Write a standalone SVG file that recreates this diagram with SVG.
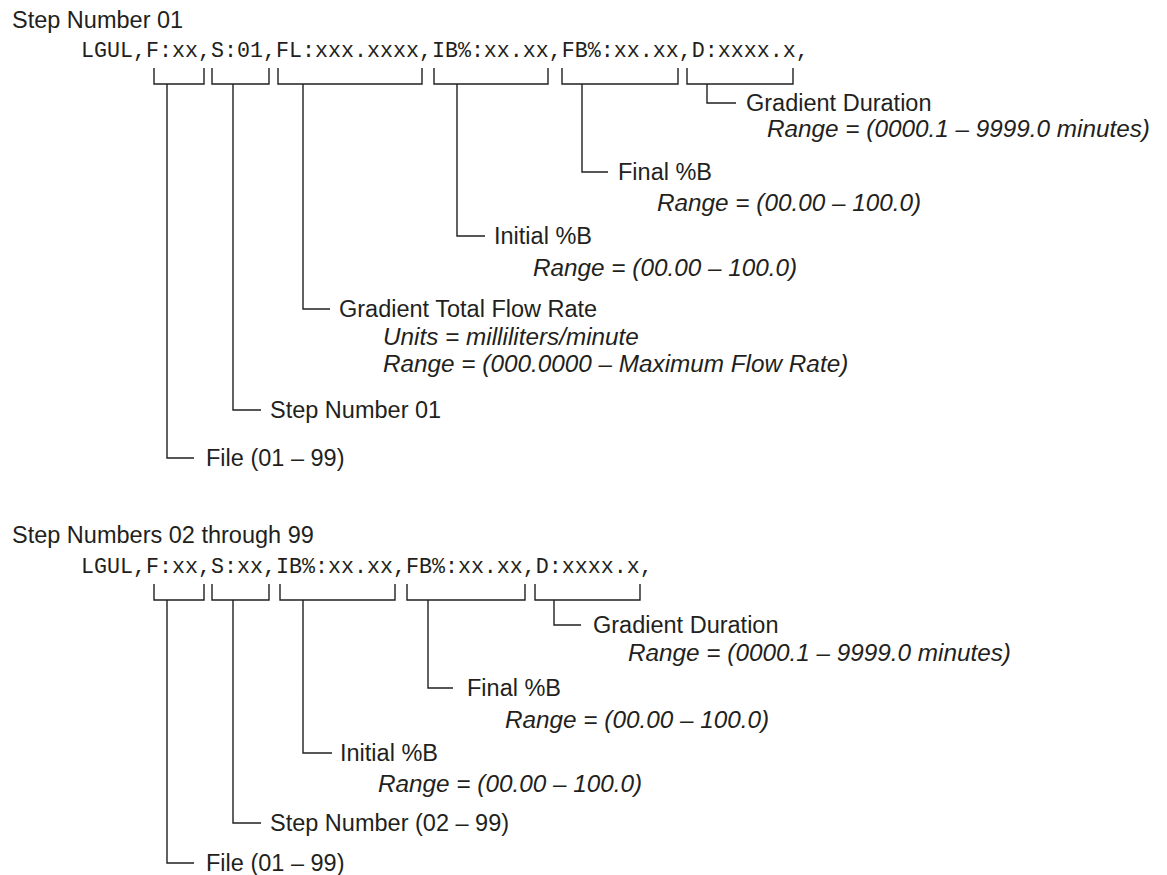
<svg xmlns="http://www.w3.org/2000/svg" width="1167" height="875" viewBox="0 0 1167 875">
<style>
text{font-family:"Liberation Sans",Arial,sans-serif;font-size:23.5px;fill:#231f20}
.code{font-family:"Liberation Mono","Courier New",monospace;font-size:21.67px;fill:#231f20}
.it{font-style:italic;font-size:24.3px}
.ln{fill:none;stroke:#231f20;stroke-width:1.4}
</style>
<rect width="1167" height="875" fill="#fff"/>
<g id="top-title"><text x="12" y="28">Step Number 01</text></g>
<g id="top-code"><text class="code" x="81" y="57">LGUL,F:xx,S:01,FL:xxx.xxxx,IB%:xx.xx,FB%:xx.xx,D:xxxx.x,</text></g>
<g id="connectors" class="ln">
<path d="M154 68V84H204V68M212 68V84H269V68M278 68V84H422V68M434 68V84H548V68M562 68V84H678V68M687 68V84H793V68"/>
<path d="M707 84V103H736M582 84V172H608M457 84V236H485M303 84V309H330M233 84V410H261M167 84V458H194"/>
<path d="M154 584V600H204V584M212 584V600H269V584M280 584V600H395V584M407 584V600H525V584M535 584V600H640V584"/>
<path d="M554 600V625H581M428 600V688H453M303 600V753H332M233 600V823H261M167 600V863H194"/>
</g>
<g id="n-gd1"><text x="746" y="111">Gradient Duration</text><text class="it" x="767" y="137">Range = (0000.1 – 9999.0 minutes)</text></g>
<g id="n-fb1"><text x="618" y="180">Final %B</text><text class="it" x="657" y="211">Range = (00.00 – 100.0)</text></g>
<g id="n-ib1"><text x="494" y="244">Initial %B</text><text class="it" x="533" y="276">Range = (00.00 – 100.0)</text></g>
<g id="n-fl1"><text x="339" y="317">Gradient Total Flow Rate</text><text class="it" x="383" y="345">Units = milliliters/minute</text><text class="it" x="383" y="372">Range = (000.0000 – Maximum Flow Rate)</text></g>
<g id="n-s1"><text x="270" y="418">Step Number 01</text></g>
<g id="n-f1"><text x="206" y="466">File (01 – 99)</text></g>
<g id="bottom-title"><text x="12" y="543">Step Numbers 02 through 99</text></g>
<g id="bottom-code"><text class="code" x="81" y="573">LGUL,F:xx,S:xx,IB%:xx.xx,FB%:xx.xx,D:xxxx.x,</text></g>
<g id="n-gd2"><text x="593" y="633">Gradient Duration</text><text class="it" x="628" y="661">Range = (0000.1 – 9999.0 minutes)</text></g>
<g id="n-fb2"><text x="467" y="696">Final %B</text><text class="it" x="505" y="728">Range = (00.00 – 100.0)</text></g>
<g id="n-ib2"><text x="340" y="761">Initial %B</text><text class="it" x="378" y="792">Range = (00.00 – 100.0)</text></g>
<g id="n-s2"><text x="270" y="831">Step Number (02 – 99)</text></g>
<g id="n-f2"><text x="206" y="871">File (01 – 99)</text></g>
</svg>
